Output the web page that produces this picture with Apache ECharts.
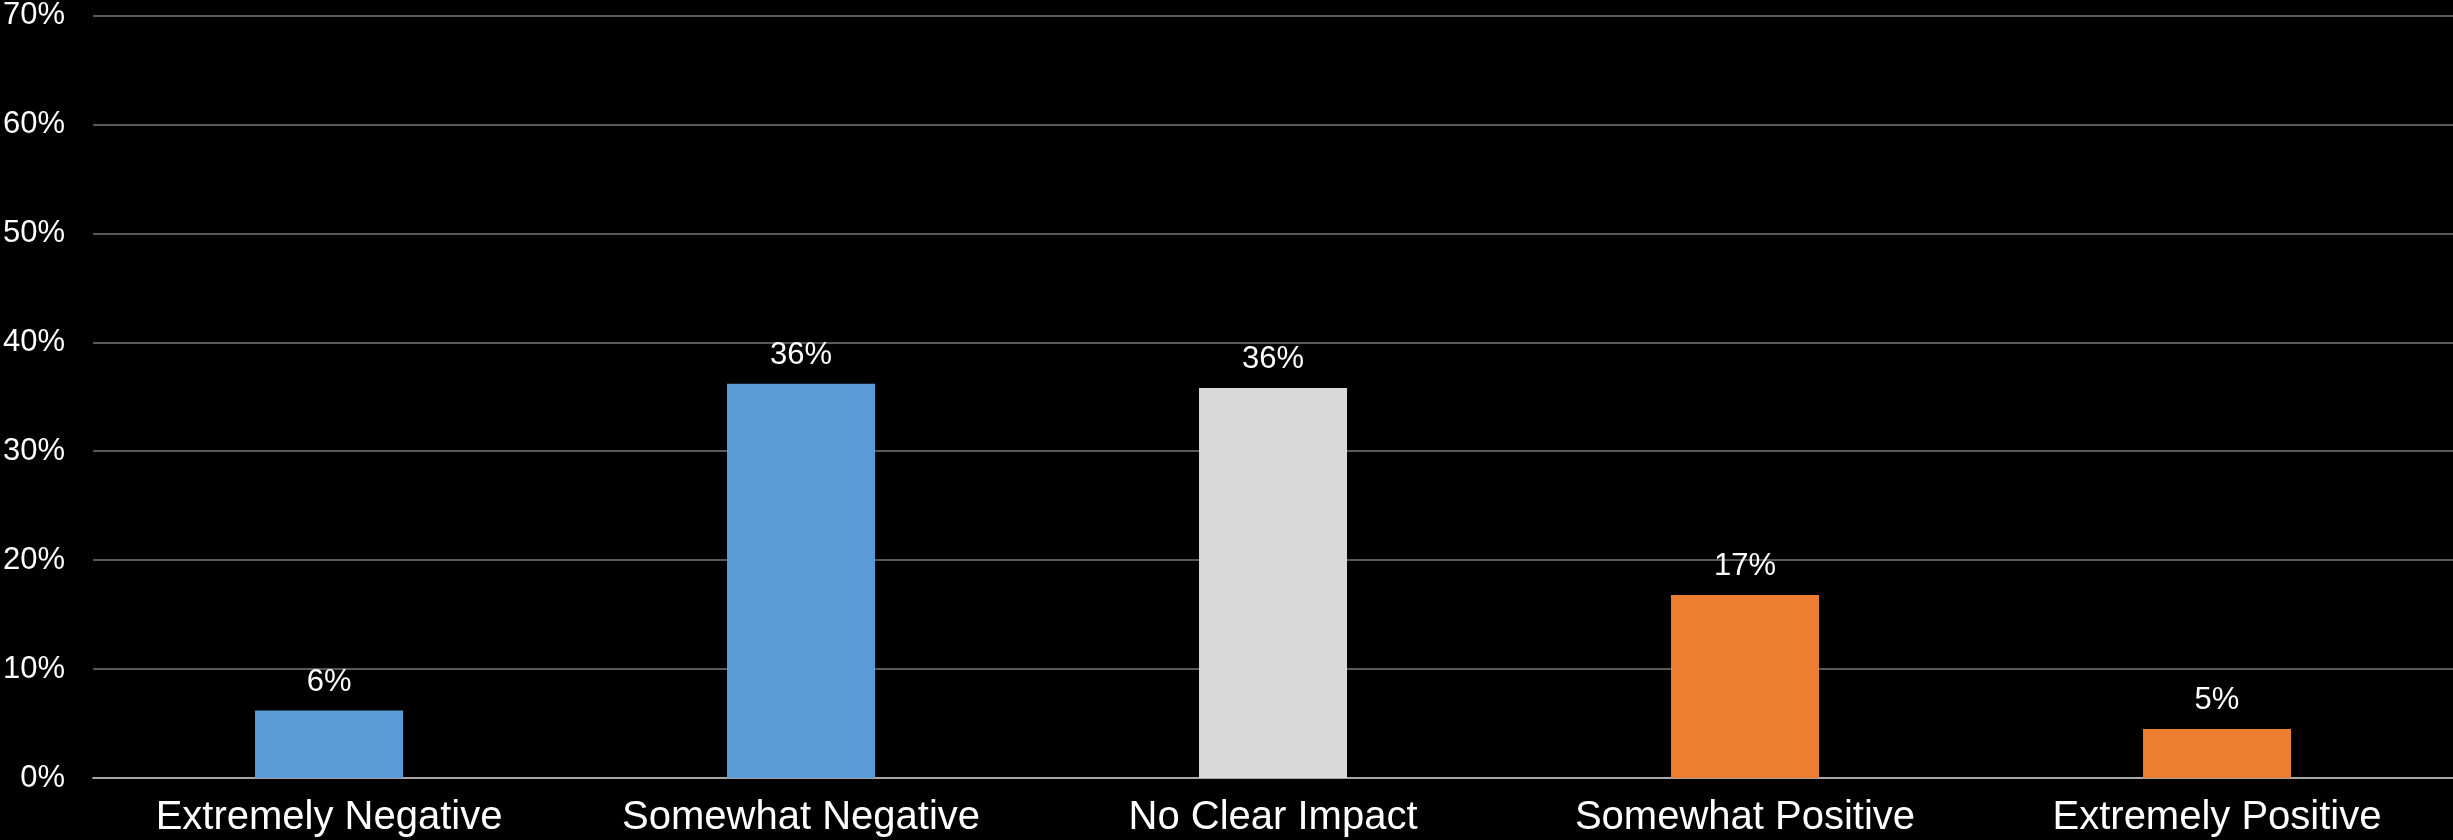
<!DOCTYPE html>
<html>
<head>
<meta charset="utf-8">
<script src="https://cdn.jsdelivr.net/npm/echarts@6/dist/echarts.min.js"></script>
<style>
  html, body { margin: 0; padding: 0; background: #000; }
  #chart { width: 2453px; height: 840px; }
</style>
</head>
<body>
<div id="chart"></div>
<script>
// categories and values (percent)
var categories = ['Extremely Negative', 'Somewhat Negative', 'No Clear Impact', 'Somewhat Positive', 'Extremely Positive'];
var values = [6.2, 36.2, 35.8, 16.8, 4.5];
var barColors = ['#5B9BD5', '#5B9BD5', '#D9D9D9', '#ED7D31', '#ED7D31'];

var seriesData = [];
for (var i = 0; i < values.length; i++) {
  seriesData.push({ value: values[i], itemStyle: { color: barColors[i] } });
}

var myChart = echarts.init(document.getElementById('chart'));
var option = {
  backgroundColor: '#000000',
  textStyle: { fontFamily: 'Liberation Sans' },
  grid: { left: 93, right: 0, top: 15, bottom: 62 },
  xAxis: {
    type: 'category',
    data: categories,
    axisLine: { lineStyle: { color: '#A6A6A6', width: 2 } },
    axisTick: { show: false },
    axisLabel: { color: '#ffffff', fontSize: 40, margin: 20 }
  },
  yAxis: {
    type: 'value',
    min: 0,
    max: 70,
    interval: 10,
    axisLine: { show: false },
    axisTick: { show: false },
    axisLabel: { color: '#ffffff', fontSize: 31, margin: 28, formatter: '{value}%' },
    splitLine: { lineStyle: { color: '#595959', width: 2 } }
  },
  series: [{
    type: 'bar',
    data: seriesData,
    barWidth: 148,
    label: {
      show: true,
      position: 'top',
      distance: 13,
      color: '#ffffff',
      fontSize: 31,
      formatter: function (p) { return Math.round(p.value) + '%'; }
    }
  }]
};
myChart.setOption(option);
</script>
</body>
</html>
